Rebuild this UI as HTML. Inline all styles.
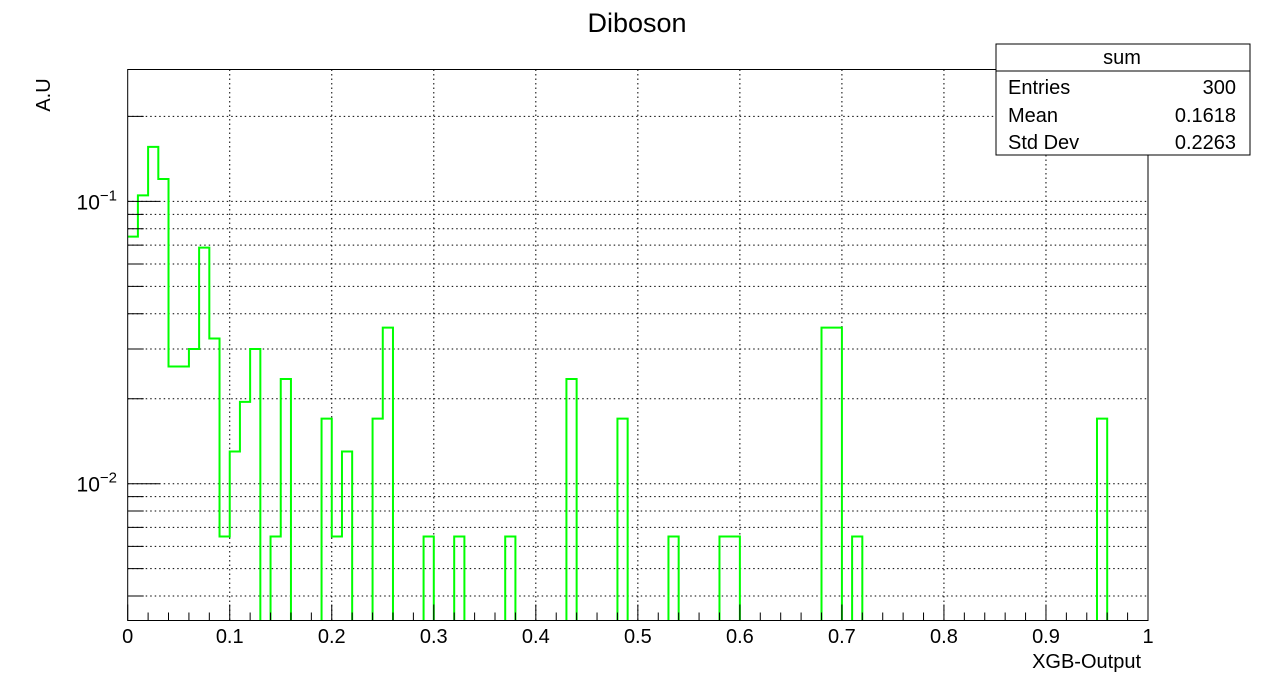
<!DOCTYPE html>
<html><head><meta charset="utf-8">
<style>
body{margin:0;background:#fff;}
svg{display:block;font-family:"Liberation Sans",Arial,sans-serif;}
</style></head>
<body>
<svg id="c" width="1276" height="692" xmlns="http://www.w3.org/2000/svg">
<rect x="0" y="0" width="1276" height="692" fill="#fff"/>
<text x="637" y="32" font-size="27" text-anchor="middle">Diboson</text>
<text x="50" y="95" font-size="20" text-anchor="middle" transform="rotate(-90 50 95)">A.U</text>
<text x="1141" y="668" font-size="20" text-anchor="end">XGB-Output</text>
<g id="grid"></g>
<path id="hist" fill="none" stroke="#00ff00" stroke-width="2"/>
<g id="axes"></g>
<g>
<rect x="996" y="44" width="254" height="111" fill="#fff" stroke="#000" stroke-width="1"/>
<line x1="996" y1="71" x2="1250" y2="71" stroke="#000"/>
<text x="1122" y="64" font-size="20" text-anchor="middle">sum</text>
<text x="1008" y="94" font-size="20">Entries</text><text x="1236" y="94" font-size="20" text-anchor="end">300</text>
<text x="1008" y="122" font-size="20">Mean</text><text x="1236" y="122" font-size="20" text-anchor="end">0.1618</text>
<text x="1008" y="149" font-size="20">Std Dev</text><text x="1236" y="149" font-size="20" text-anchor="end">0.2263</text>
</g>
</svg>
<script>
const binCounts = [0.075,0.105,0.156,0.120,0.026,0.026,0.030,0.0686,0.0327,0.0065,
0.0130,0.0195,0.030,0,0.0065,0.0235,0,0,0,0.017,
0.0065,0.013,0,0,0.017,0.0357,0,0,0,0.0065,
0,0,0.0065,0,0,0,0,0.0065,0,0,
0,0,0,0.0235,0,0,0,0,0.017,0,
0,0,0,0.0065,0,0,0,0,0.0065,0.0065,
0,0,0,0,0,0,0,0,0.0357,0.0357,
0,0.0065,0,0,0,0,0,0,0,0,
0,0,0,0,0,0,0,0,0,0,
0,0,0,0,0,0.017,0,0,0,0];
const xTickLabels = ["0","0.1","0.2","0.3","0.4","0.5","0.6","0.7","0.8","0.9","1"];
const yDecades = [-3,-2,-1];
const X0=127.7,X1=1148,YT=69.5,YB=620.5,Y1=201.4,DEC=282.3;
const ymin=Math.pow(10,-1-(YB-Y1)/DEC);
function xs(v){return X0+(X1-X0)*v;}
function ys(v){if(v<=ymin)return YB+3;return Math.max(YT,Y1-(Math.log10(v)+1)*DEC);}
const NS="http://www.w3.org/2000/svg";
const grid=document.getElementById('grid'),axes=document.getElementById('axes');
function mk(p,tag,a){const e=document.createElementNS(NS,tag);for(const k in a)e.setAttribute(k,a[k]);p.appendChild(e);return e;}
// white strip below axis hides zero-level histogram segments
const cov=mk(axes,'rect',{x:X0-2,y:YB+0.5,width:X1-X0+4,height:6,fill:'#fff'});


for(let i=0;i<=50;i++){
  const v=i/50,x=xs(v),maj=i%5===0;
  const t=mk(axes,'line',{x1:x,x2:x,y1:YB,y2:YB-(maj?16:8),stroke:'#000'});
  
  
  if(maj&&i>0&&i<50){const g=mk(grid,'line',{x1:x,x2:x,y1:YT,y2:YB,stroke:'#000','stroke-dasharray':'1.5,3'});
    
    }
}
xTickLabels.forEach((s,i)=>{const t=mk(axes,'text',{x:xs(i/10),y:643,'font-size':20,'text-anchor':'middle'});t.textContent=s;
  
  });
yDecades.forEach(d=>{
  for(let m=1;m<=9;m++){
    const v=m*Math.pow(10,d),y=Y1-(Math.log10(v)+1)*DEC;
    if(y<YT||y>YB)continue;
    const t=mk(axes,'line',{x1:X0,x2:X0+(m===1?32:16),y1:y,y2:y,stroke:'#000'});
    
    
    const g=mk(grid,'line',{x1:X0,x2:X1,y1:y,y2:y,stroke:'#000','stroke-dasharray':'1.5,3'});
    
    
    if(m===1){const t2=mk(axes,'text',{x:117,y:y+8,'font-size':21,'text-anchor':'end'});
      t2.innerHTML='10<tspan dy="-9" font-size="15">\u2212'+(-d)+'</tspan>';
      
      }
  }
});
const fr=mk(axes,'rect',{x:X0,y:YT,width:X1-X0,height:YB-YT,fill:'none',stroke:'#000'});


const bw=(X1-X0)/binCounts.length;
let d='M'+X0+','+ys(binCounts[0]);
binCounts.forEach((v,i)=>{const y=ys(v);d+=' L'+(X0+i*bw)+','+y+' L'+(X0+(i+1)*bw)+','+y;});
document.getElementById('hist').setAttribute('d',d);
</script>
</body></html>
